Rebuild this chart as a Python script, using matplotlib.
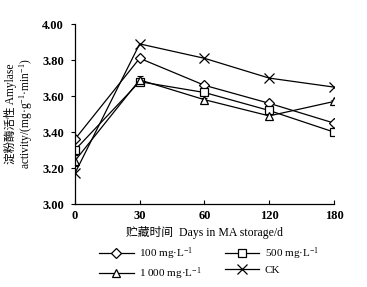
import numpy as np
import matplotlib.pyplot as plt

plt.rcParams['font.family'] = ['Liberation Serif', 'Noto Sans CJK SC']
plt.rcParams['mathtext.fontset'] = 'custom'
plt.rcParams['mathtext.rm'] = 'Liberation Serif'
plt.rcParams['mathtext.it'] = 'Liberation Serif:italic'
plt.rcParams['mathtext.bf'] = 'Liberation Serif:bold'

days = ['0', '30', '60', '120', '180']
t100 = [3.36, 3.81, 3.66, 3.56, 3.45]
t500 = [3.30, 3.68, 3.62, 3.52, 3.40]
t1000 = [3.24, 3.69, 3.58, 3.49, 3.57]
ck = [3.17, 3.89, 3.81, 3.70, 3.65]
err100 = [0.01, 0.01, 0.01, 0.01, 0.01]
err1000 = [0.03, 0.02, 0.01, 0.01, 0.01]

x = np.arange(len(days))

fig = plt.figure(figsize=(3.67, 2.87), dpi=100)
ax = fig.add_axes([0.204, 0.289, 0.706, 0.627])

kw = dict(color='black', lw=0.9, mfc='white', mec='black', mew=0.9)
ekw = dict(fmt='none', ecolor='black', capsize=2.5, elinewidth=0.8, capthick=0.8)
ax.errorbar(x, t100, yerr=err100, **ekw)
ax.errorbar(x, t1000, yerr=err1000, **ekw)
l1, = ax.plot(x, t100, marker='D', ms=5, label='100 mg·L$^{-1}$', **kw)
l2, = ax.plot(x, t500, marker='s', ms=5.5, label='500 mg·L$^{-1}$', **kw)
l3, = ax.plot(x, t1000, marker='^', ms=6, label='1 000 mg·L$^{-1}$', **kw)
l4, = ax.plot(x, ck, marker='x', ms=7, label='CK', **kw)

ax.set_xlim(0, 4)
ax.set_ylim(3.0, 4.0)
ax.set_xticks(x)
ax.set_xticklabels(days)
ax.set_yticks(np.arange(3.0, 4.01, 0.2))
ax.set_yticklabels(['%.2f' % v for v in np.arange(3.0, 4.01, 0.2)])
for s in ['top', 'right']:
    ax.spines[s].set_visible(False)
for s in ['left', 'bottom']:
    ax.spines[s].set_linewidth(0.9)
ax.tick_params(axis='x', direction='in', length=3, width=0.8, labelsize=9, pad=4)
ax.tick_params(axis='y', direction='out', length=3, width=0.8, labelsize=9, pad=5)
for lab in ax.get_xticklabels() + ax.get_yticklabels():
    lab.set_fontweight('bold')

ax.set_ylabel('淀粉酶活性 Amylase\nactivity/(mg·g$^{-1}$·min$^{-1}$)', fontsize=8.3,
              linespacing=1.05, labelpad=5)
ax.set_xlabel('贮藏时间  Days in MA storage/d', fontsize=8.5, labelpad=3)

# row-wise order: 100, 500 / 1000, CK
fig.legend([l1, l3, l2, l4], [l1.get_label(), l3.get_label(), l2.get_label(), l4.get_label()],
           ncol=2, loc='upper left', bbox_to_anchor=(0.255, 0.163),
           frameon=False, fontsize=8, handlelength=3.1, columnspacing=2.1,
           handletextpad=0.5, labelspacing=0.25, borderpad=0)

fig.savefig('out.png', dpi=100)
